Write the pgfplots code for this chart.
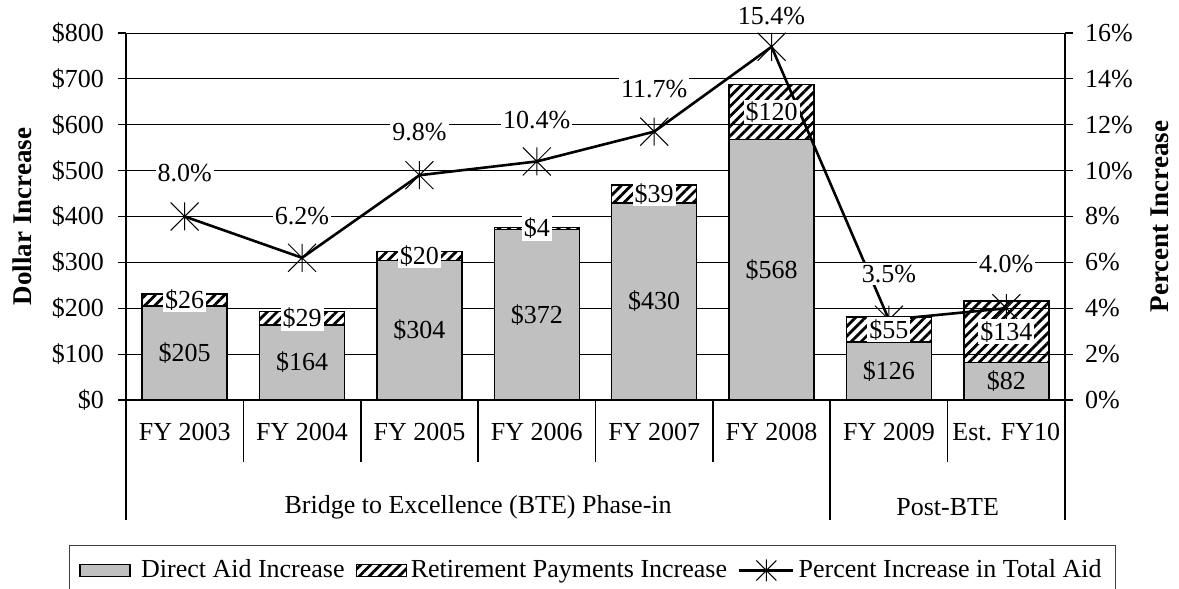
\documentclass[border=0pt]{standalone}
\usepackage{fontspec}
\setmainfont{Liberation Serif}
\usepackage{pgfplots}
\pgfplotsset{compat=1.18}
\usepackage{pgfplotstable}
\usetikzlibrary{patterns.meta}
\definecolor{barGray}{RGB}{192,192,192}

\pgfdeclareplotmark{xast}{%
  \pgfpathmoveto{\pgfqpoint{-\pgfplotmarksize}{-\pgfplotmarksize}}%
  \pgfpathlineto{\pgfqpoint{\pgfplotmarksize}{\pgfplotmarksize}}%
  \pgfpathmoveto{\pgfqpoint{-\pgfplotmarksize}{\pgfplotmarksize}}%
  \pgfpathlineto{\pgfqpoint{\pgfplotmarksize}{-\pgfplotmarksize}}%
  \pgfpathmoveto{\pgfqpoint{0pt}{-\pgfplotmarksize}}%
  \pgfpathlineto{\pgfqpoint{0pt}{\pgfplotmarksize}}%
  \pgfusepathqstroke}

\pgfplotstableread{
x direct ret pct lshift
0 205 26 8.0 21.5
1 164 29 6.2 21
2 304 20 9.8 21.5
3 372 4 10.4 20.5
4 430 39 11.7 21.5
5 568 120 15.4 15.5
6 126 55 3.5 23
7 82 134 4.0 22
}\datatable

\tikzset{hatch/.style={pattern={Lines[angle=45,distance=3.5pt,line width=1.4pt]}, pattern color=black}}
\pgfplotsset{
  base/.style={
    scale only axis, width=469.5pt, height=183.5pt,
    xmin=-0.5, xmax=7.5, at={(0,0)}, anchor=south west,
  },
}

\begin{document}
\fontsize{13}{15.6}\selectfont
\begin{tikzpicture}
% ---------- Axis A: bars, grid, left axis, categories, legend
\begin{axis}[base, ymin=0, ymax=800, clip=false,
  ybar stacked, bar width=42.5pt,
  axis x line*=bottom, axis y line*=left,
  axis line style={line width=0.9pt},
  ytick={0,100,...,800},
  yticklabels={\$0,\$100,\$200,\$300,\$400,\$500,\$600,\$700,\$800},
  y tick label style={xshift=-2.5pt},
  ymajorgrids, grid style={black, line width=0.5pt},
  tick align=outside, major tick length=4pt,
  ytick style={black, line width=0.6pt},
  xtick={0,...,7},
  xticklabels={FY 2003,FY 2004,FY 2005,FY 2006,FY 2007,FY 2008,FY 2009,Est. FY10},
  xtick style={draw=none},
  x tick label style={anchor=center, yshift=-12pt},
  every axis y label/.style={at={(axis description cs:-0.111,0.5)}, rotate=90, anchor=center, font=\bfseries\fontsize{13.5}{16}\selectfont},
  ylabel={Dollar Increase},
  legend columns=3,
  legend style={at={(0,0)}, anchor=north west, xshift=-28.5pt, yshift=-72.5pt,
    draw=black!75, line width=0.5pt, inner xsep=5pt, inner ysep=5pt,
    /tikz/every odd column/.append style={column sep=0pt},
    /tikz/every even column/.append style={column sep=3.5pt}},
]
\addplot[fill=barGray, draw=black, line width=0.8pt,
  legend image code/.code={\draw[fill=barGray, draw=black, line width=0.6pt] (0pt,-3pt) rectangle (25pt,3pt);
    \path[draw=none, fill=none] (0pt,0pt) rectangle (28.5pt,0.1pt);}]
  table[x=x,y=direct]{\datatable};
\addlegendentry{Direct Aid Increase}
\addplot[/tikz/hatch, draw=black, line width=0.8pt,
  legend image code/.code={\draw[hatch, draw=black, line width=0.6pt] (0pt,-3pt) rectangle (25pt,3pt);}]
  table[x=x,y=ret]{\datatable};
\addlegendentry{Retirement Payments Increase}
\addlegendimage{legend image code/.code={%
  \draw[black,line width=1.3pt](0pt,0pt)--(27pt,0pt);
  \draw[black,line width=0.5pt](8.5pt,-5pt)--(18.5pt,5pt) (8.5pt,5pt)--(18.5pt,-5pt) (13.5pt,-5.5pt)--(13.5pt,5.5pt);}}
\addlegendentry{Percent Increase in Total Aid}
\pgfplotsinvokeforeach{-0.5,0.5,...,7.5}{\draw[line width=0.8pt] (axis cs:#1,0) -- ++(0pt,-31pt);}
\pgfplotsinvokeforeach{-0.5,5.5,7.5}{\draw[line width=0.8pt] (axis cs:#1,0) -- ++(0pt,-60pt);}
\node at (axis cs:2.5,0) [yshift=-53.5pt] {Bridge to Excellence (BTE) Phase-in};
\node at (axis cs:6.5,0) [yshift=-53.5pt] {Post-BTE};
\end{axis}
% ---------- Axis B: percent line, right axis
\begin{axis}[base, ymin=0, ymax=16, clip=false,
  axis y line*=right, axis x line=none,
  axis line style={line width=0.9pt},
  ytick={0,2,...,16},
  yticklabels={0\%,2\%,4\%,6\%,8\%,10\%,12\%,14\%,16\%},
  y tick label style={xshift=1.5pt},
  tick align=outside, major tick length=4pt,
  ytick style={black, line width=0.6pt},
  every axis y label/.style={at={(axis description cs:1.101,0.5)}, rotate=90, anchor=center, font=\bfseries\fontsize{13.5}{16}\selectfont},
  ylabel={Percent Increase},
]
\addplot[black, line width=1.3pt, mark=xast, mark size=7pt, mark options={line width=0.5pt},
  point meta=y,
  visualization depends on={\thisrow{lshift} \as \lshift},
  nodes near coords={\pgfmathprintnumber[fixed,fixed zerofill,precision=1,assume math mode=true]{\pgfplotspointmeta}\%},
  every node near coord/.append style={anchor=center, yshift=\lshift pt, fill=white, inner xsep=1pt, inner ysep=1pt, text=black}]
  table[x=x,y=pct]{\datatable};
\end{axis}
% ---------- Axis C: bar value labels on top
\begin{axis}[base, ymin=0, ymax=800, hide axis, clip=false]
\addplot[draw=none, mark=none, point meta=explicit,
  nodes near coords={\$\pgfmathprintnumber[assume math mode=true]{\pgfplotspointmeta}},
  every node near coord/.append style={anchor=center, text=black}]
  table[x=x, y expr=\thisrow{direct}/2, meta=direct]{\datatable};
\addplot[draw=none, mark=none, point meta=explicit,
  nodes near coords={\$\pgfmathprintnumber[assume math mode=true]{\pgfplotspointmeta}},
  every node near coord/.append style={anchor=center, fill=white, inner xsep=1pt, inner ysep=1pt, text=black}]
  table[x=x, y expr=\thisrow{direct}+\thisrow{ret}/2, meta=ret]{\datatable};
\end{axis}
\pgfresetboundingbox
\useasboundingbox (-63pt,-94.5pt) rectangle (526.5pt,200pt);
\end{tikzpicture}
\end{document}
